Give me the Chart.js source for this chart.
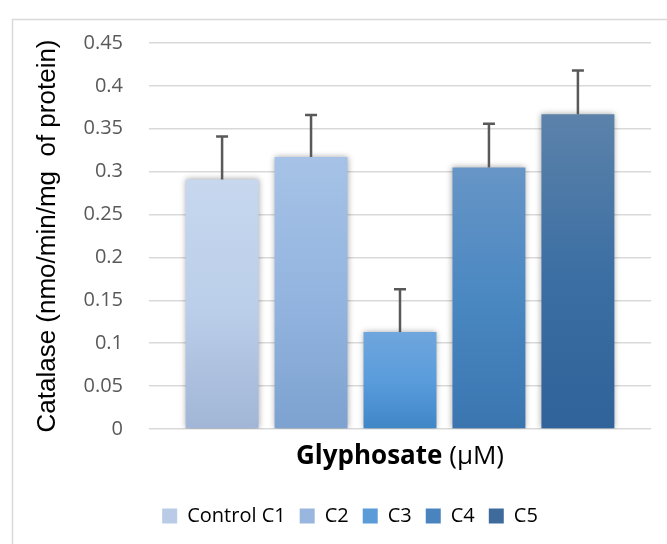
<!DOCTYPE html>
<html lang="en">
<head>
    <meta charset="UTF-8">
    <title>Catalase activity</title>
    <script src="https://cdn.jsdelivr.net/npm/chart.js@4.4.1/dist/chart.umd.min.js"></script>
    <style>
        body {
            margin: 0;
            background-color: #ffffff;
        }
        .chart-wrapper {
            width: 667px;
            height: 544px;
            position: relative;
        }
    </style>
</head>
<body>
    <div class="chart-wrapper">
        <canvas id="catalase-chart"></canvas>
    </div>

    <script>
        // Data
        const categories = ['Glyphosate (µM)'];
        const seriesNames = ['Control C1', 'C2', 'C3', 'C4', 'C5'];
        const catalaseValues = [0.291, 0.317, 0.113, 0.305, 0.367];
        const errorValues = [0.05, 0.049, 0.05, 0.051, 0.051];
        const yTicks = [0, 0.05, 0.1, 0.15, 0.2, 0.25, 0.3, 0.35, 0.4, 0.45];

        // Gradient colours per bar (top -> bottom) and legend swatches
        const gradientStops = [
            ['#c6d7ee', '#bccfea', '#a1b5d6'],
            ['#a6c2e6', '#94b5e0', '#7da2cf'],
            ['#6fa6dd', '#5a9cdc', '#3f86c7'],
            ['#6795c6', '#4a88c2', '#3a75b0'],
            ['#5c82aa', '#3c6fa3', '#2f6399']
        ];
        const legendColors = ['#b9cbe7', '#98b6de', '#5b9bd8', '#4a84bf', '#3e6b9c'];

        const font = "'Open Sans', 'Liberation Sans', sans-serif";
        const textGray = '#595959';

        function barGradient(context, i) {
            const chart = context.chart;
            const yScale = chart.scales.y;
            if (!chart.chartArea || !yScale) return legendColors[i];
            const top = yScale.getPixelForValue(catalaseValues[i]);
            const bottom = yScale.getPixelForValue(0);
            const g = chart.ctx.createLinearGradient(0, top, 0, bottom);
            g.addColorStop(0, gradientStops[i][0]);
            g.addColorStop(0.5, gradientStops[i][1]);
            g.addColorStop(1, gradientStops[i][2]);
            return g;
        }

        const datasets = seriesNames.map((name, i) => ({
            label: name,
            data: [catalaseValues[i]],
            backgroundColor: ctx => barGradient(ctx, i),
            borderWidth: 0,
            categoryPercentage: 0.886,
            barPercentage: 0.82
        }));

        // Outer light border like the Excel chart frame
        const frame = {
            id: 'frame',
            beforeDraw(chart) {
                const ctx = chart.ctx;
                ctx.save();
                ctx.strokeStyle = '#d9d9d9';
                ctx.lineWidth = 1.5;
                ctx.strokeRect(12.5, 19.5, 700, 600);
                ctx.restore();
            }
        };

        // Soft shadow around the bars
        const barShadow = {
            id: 'barShadow',
            beforeDatasetsDraw(chart) {
                const ctx = chart.ctx;
                ctx.save();
                ctx.shadowColor = 'rgba(0, 0, 0, 0.35)';
                ctx.shadowBlur = 6;
                ctx.shadowOffsetX = 0;
                ctx.shadowOffsetY = 0;
            },
            afterDatasetsDraw(chart) {
                chart.ctx.restore();
            }
        };

        // Upper error bars
        const errorBars = {
            id: 'errorBars',
            afterDatasetsDraw(chart) {
                const ctx = chart.ctx;
                const yScale = chart.scales.y;
                ctx.save();
                ctx.strokeStyle = '#595959';
                ctx.lineWidth = 2.5;
                chart.data.datasets.forEach((ds, i) => {
                    const bar = chart.getDatasetMeta(i).data[0];
                    const x = bar.x;
                    const yTop = yScale.getPixelForValue(catalaseValues[i] + errorValues[i]);
                    ctx.beginPath();
                    ctx.moveTo(x, bar.y);
                    ctx.lineTo(x, yTop);
                    ctx.moveTo(x - 6, yTop);
                    ctx.lineTo(x + 6, yTop);
                    ctx.stroke();
                });
                ctx.restore();
            }
        };

        // X axis title with bold word and plain unit
        const xTitle = {
            id: 'xTitle',
            afterDraw(chart) {
                const ctx = chart.ctx;
                const xScale = chart.scales.x;
                const centerX = (xScale.left + xScale.right) / 2;
                const y = xScale.top + 28;
                const boldPart = 'Glyphosate ';
                const plainPart = '(µM)';
                ctx.save();
                ctx.fillStyle = '#000000';
                ctx.textBaseline = 'middle';
                ctx.textAlign = 'left';
                ctx.font = "bold 26px " + font;
                const w1 = ctx.measureText(boldPart).width;
                ctx.font = "26px " + font;
                const w2 = ctx.measureText(plainPart).width;
                let x = centerX - (w1 + w2) / 2;
                ctx.font = "bold 26px " + font;
                ctx.fillText(boldPart, x, y);
                ctx.font = "26px " + font;
                ctx.fillText(plainPart, x + w1, y);
                ctx.restore();
            }
        };

        new Chart(document.getElementById('catalase-chart'), {
            type: 'bar',
            data: {
                labels: categories,
                datasets: datasets
            },
            options: {
                responsive: true,
                maintainAspectRatio: false,
                animation: false,
                layout: {
                    padding: { left: 49, right: 16, top: 43, bottom: 8 }
                },
                plugins: {
                    legend: {
                        position: 'bottom',
                        labels: {
                            boxWidth: 15,
                            boxHeight: 15,
                            padding: 14,
                            color: textGray,
                            font: { family: font, size: 20 },
                            generateLabels: chart => seriesNames.map((name, i) => ({
                                text: name,
                                fillStyle: legendColors[i],
                                strokeStyle: legendColors[i],
                                lineWidth: 0,
                                hidden: false,
                                datasetIndex: i
                            }))
                        }
                    },
                    tooltip: { enabled: false }
                },
                scales: {
                    x: {
                        ticks: { display: false },
                        grid: { display: false },
                        border: { display: false },
                        afterFit: scale => { scale.height = 63; }
                    },
                    y: {
                        min: 0,
                        max: 0.45,
                        afterBuildTicks: scale => {
                            scale.ticks = yTicks.map(v => ({ value: v }));
                        },
                        ticks: {
                            color: textGray,
                            padding: 26,
                            font: { family: font, size: 20 },
                            callback: v => String(+v.toFixed(2))
                        },
                        grid: {
                            color: '#d9d9d9',
                            lineWidth: 1.5,
                            drawTicks: false
                        },
                        border: { display: false },
                        title: {
                            display: true,
                            text: 'Catalase (nmo/min/mg  of protein)',
                            color: '#000000',
                            font: { family: "'Liberation Sans', Arial, sans-serif", size: 26 },
                            padding: { top: -17, bottom: 0 }
                        },
                        afterFit: scale => { scale.width = 100; }
                    }
                }
            },
            plugins: [frame, barShadow, errorBars, xTitle]
        });
    </script>
</body>
</html>
